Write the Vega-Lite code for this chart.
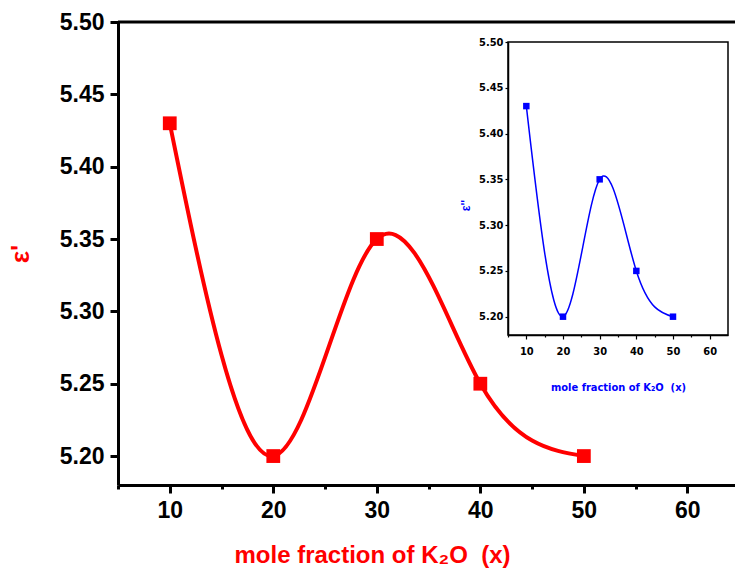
{
  "$schema": "https://vega.github.io/schema/vega-lite/v6.json",
  "width": 617,
  "height": 463,
  "autosize": {"type": "none"},
  "padding": {"left": 118, "top": 22, "right": 0, "bottom": 86},
  "background": "white",
  "config": {"view": {"stroke": null}},
  "datasets": {
    "main": [
      {"x": 10, "y": 5.43},
      {"x": 20, "y": 5.20},
      {"x": 30, "y": 5.35},
      {"x": 40, "y": 5.25},
      {"x": 50, "y": 5.20}
    ],
    "inset": [
      {"x": 10, "y": 5.43},
      {"x": 20, "y": 5.20},
      {"x": 30, "y": 5.35},
      {"x": 40, "y": 5.25},
      {"x": 50, "y": 5.20}
    ],
    "topline": [{"v": 5.5}],
    "box": [{"x1": 5, "x2": 65, "y1": 5.18, "y2": 5.5}]
  },
  "layer": [
    {
      "layer": [
        {
          "data": {"name": "topline"},
          "mark": {"type": "rule", "color": "black", "strokeWidth": 3},
          "encoding": {
            "y": {"field": "v", "type": "quantitative"}
          }
        },
        {
          "data": {"name": "main"},
          "mark": {"type": "line", "interpolate": "natural", "color": "#FF0000", "strokeWidth": 4},
          "encoding": {
            "x": {
              "field": "x", "type": "quantitative",
              "scale": {"domain": [5, 64.6], "nice": false, "zero": false},
              "axis": {
                "orient": "bottom",
                "values": [5, 10, 15, 20, 25, 30, 35, 40, 45, 50, 55, 60],
                "labelExpr": "datum.value % 10 === 0 ? datum.label : ''",
                "tickSize": {"condition": {"test": "datum.value % 10 === 0", "value": 8}, "value": 4},
                "tickWidth": 3, "tickColor": "black",
                "domainWidth": 3, "domainColor": "black",
                "grid": false,
                "labelFont": "Liberation Sans", "labelFontWeight": "bold", "labelFontSize": 23, "labelColor": "black",
                "labelPadding": 6, "labelFlush": false, "labelOverlap": false,
                "title": "mole fraction of K₂O\u00a0 (x)",
                "titleFont": "Liberation Sans", "titleFontWeight": "bold", "titleFontSize": 24, "titleColor": "#FF0000",
                "titlePadding": 21, "titleX": 254
              }
            },
            "y": {
              "field": "y", "type": "quantitative",
              "scale": {"domain": [5.18, 5.5], "nice": false, "zero": false},
              "axis": {
                "orient": "left",
                "values": [5.2, 5.225, 5.25, 5.275, 5.3, 5.325, 5.35, 5.375, 5.4, 5.425, 5.45, 5.475, 5.5],
                "labelExpr": "round(datum.value*1000) % 50 === 0 ? format(datum.value, '.2f') : ''",
                "tickSize": {"condition": {"test": "round(datum.value*1000) % 50 === 0", "value": 8}, "value": 4},
                "tickWidth": 3, "tickColor": "black",
                "domainWidth": 3, "domainColor": "black",
                "grid": false,
                "labelFont": "Liberation Sans", "labelFontWeight": "bold", "labelFontSize": 23, "labelColor": "black",
                "labelPadding": 6, "labelFlush": false, "labelOverlap": false,
                "title": "ε'",
                "titleFont": "Liberation Sans", "titleFontWeight": "bold", "titleFontSize": 26, "titleColor": "#FF0000",
                "titlePadding": 26
              }
            }
          }
        },
        {
          "data": {"name": "main"},
          "mark": {"type": "square", "size": 190, "color": "#FF0000", "opacity": 1},
          "encoding": {
            "x": {"field": "x", "type": "quantitative"},
            "y": {"field": "y", "type": "quantitative"}
          }
        }
      ]
    },
    {
      "layer": [
        {
          "data": {"name": "box"},
          "mark": {"type": "rect", "fill": null, "fillOpacity": 0, "stroke": "black", "strokeWidth": 1.5},
          "encoding": {
            "x": {"field": "x1", "type": "quantitative"},
            "x2": {"field": "x2"},
            "y": {"field": "y1", "type": "quantitative"},
            "y2": {"field": "y2"}
          }
        },
        {
          "data": {"name": "inset"},
          "mark": {"type": "line", "interpolate": "natural", "color": "#0000FF", "strokeWidth": 1.5},
          "encoding": {
            "x": {
              "field": "x", "type": "quantitative",
              "scale": {"domain": [5, 65], "nice": false, "zero": false, "range": [390, 610]},
              "axis": {
                "orient": "bottom", "offset": -150,
                "values": [5, 10, 15, 20, 25, 30, 35, 40, 45, 50, 55, 60],
                "labelExpr": "datum.value % 10 === 0 ? datum.label : ''",
                "tickSize": {"condition": {"test": "datum.value % 10 === 0", "value": 4}, "value": 2},
                "tickWidth": 1.2, "tickColor": "black",
                "domainWidth": 1.5, "domainColor": "black",
                "grid": false,
                "labelFont": "DejaVu Sans Condensed, Liberation Sans", "labelFontWeight": "bold", "labelFontSize": 11, "labelColor": "black",
                "labelPadding": 6, "labelFlush": false, "labelOverlap": false,
                "title": "mole fraction of K₂O\u00a0 (x)",
                "titleFont": "DejaVu Sans Condensed, Liberation Sans", "titleFontWeight": "bold", "titleFontSize": 11, "titleColor": "#0000FF",
                "titlePadding": 25
              }
            },
            "y": {
              "field": "y", "type": "quantitative",
              "scale": {"domain": [5.18, 5.5], "nice": false, "zero": false, "range": [313, 20]},
              "axis": {
                "orient": "left", "offset": -390,
                "values": [5.2, 5.225, 5.25, 5.275, 5.3, 5.325, 5.35, 5.375, 5.4, 5.425, 5.45, 5.475, 5.5],
                "labelExpr": "round(datum.value*1000) % 50 === 0 ? format(datum.value, '.2f') : ''",
                "tickSize": {"condition": {"test": "round(datum.value*1000) % 50 === 0", "value": 3}, "value": 2},
                "tickWidth": 1.2, "tickColor": "black",
                "domainWidth": 1.5, "domainColor": "black",
                "grid": false,
                "labelFont": "DejaVu Sans Condensed, Liberation Sans", "labelFontWeight": "bold", "labelFontSize": 11, "labelColor": "black",
                "labelPadding": 2, "labelFlush": false, "labelOverlap": false,
                "title": "ε''",
                "titleFont": "Liberation Sans", "titleFontWeight": "bold", "titleFontSize": 12, "titleColor": "#0000FF",
                "titlePadding": 6, "titleY": 183
              }
            }
          }
        },
        {
          "data": {"name": "inset"},
          "mark": {"type": "square", "size": 42, "color": "#0000FF", "opacity": 1},
          "encoding": {
            "x": {"field": "x", "type": "quantitative"},
            "y": {"field": "y", "type": "quantitative"}
          }
        }
      ]
    }
  ],
  "resolve": {
    "scale": {"x": "independent", "y": "independent"},
    "axis": {"x": "independent", "y": "independent"}
  }
}
